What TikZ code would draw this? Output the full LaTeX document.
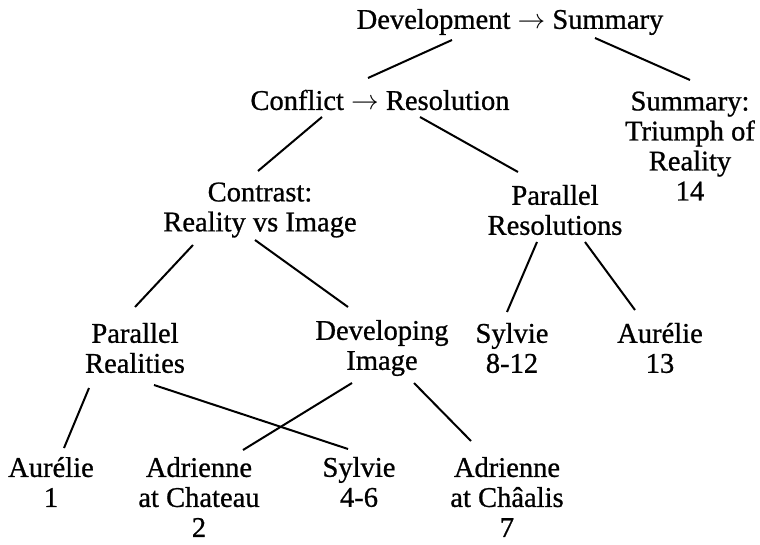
\documentclass[tikz,border=0pt]{standalone}
\usepackage{fontspec}
\setmainfont{Liberation Serif}[FakeBold=0.8]
\usetikzlibrary{calc}

\begin{document}
\begin{tikzpicture}[x=0.75pt, y=-0.75pt,
    every node/.style={align=center, inner sep=0pt, font=\fontsize{21.4}{22.5}\selectfont},
    branch/.style={line width=1.5pt}]
    \useasboundingbox (0,0) rectangle (760,545);

    % Top
    \node (dev) at (510,22) {Development $\rightarrow$ Summary};
    \node (conf) at (380,100) {Conflict $\rightarrow$ Resolution};
    \node (summ) at (690,146) {Summary:\\Triumph of\\Reality\\14};
    \draw[branch] ($(dev)+(-58,18)$) -- ($(conf)+(-12,-22)$);
    \draw[branch] ($(dev)+(85,16)$) -- ($(summ)+(0,-66)$);

    % Second level
    \node (contr) at (260,210) {Contrast:\\Reality vs Image};
    \node (pres) at (555,210) {Parallel\\Resolutions};
    \draw[branch] ($(conf)+(-58,17)$) -- ($(contr)+(-2,-39)$);
    \draw[branch] ($(conf)+(40,17)$) -- ($(pres)+(-37,-38)$);

    % Third level
    \node (preal) at (135,348) {Parallel\\Realities};
    \node (dimg) at (382,348) {Developing\\Image};
    \node (syl) at (512,348) {Sylvie\\8-12};
    \node (aur) at (660,348) {Aurélie\\13};
    \draw[branch] ($(contr)+(-67,35)$) -- ($(preal)+(0,-41)$);
    \draw[branch] ($(contr)+(-5,30)$) -- ($(dimg)+(-34,-41)$);
    \draw[branch] ($(pres)+(-18,32)$) -- ($(syl)+(-5,-36)$);
    \draw[branch] ($(pres)+(30,32)$) -- ($(aur)+(-25,-38)$);

    % Bottom
    \node (aurone) at (51,482) {Aurélie\\1};
    \node (adch) at (199,497) {Adrienne\\at Chateau\\2};
    \node (sylb) at (359,482) {Sylvie\\4-6};
    \node (adcha) at (507,497) {Adrienne\\at Châalis\\7};
    \draw[branch] ($(preal)+(-46,40)$) -- ($(aurone)+(13,-34)$);
    \draw[branch] ($(preal)+(19,37)$) -- ($(sylb)+(-11,-33)$);
    \draw[branch] ($(dimg)+(-30,35)$) -- ($(adch)+(44,-47)$);
    \draw[branch] ($(dimg)+(32,35)$) -- ($(adcha)+(-36,-56)$);

\end{tikzpicture}
\end{document}
